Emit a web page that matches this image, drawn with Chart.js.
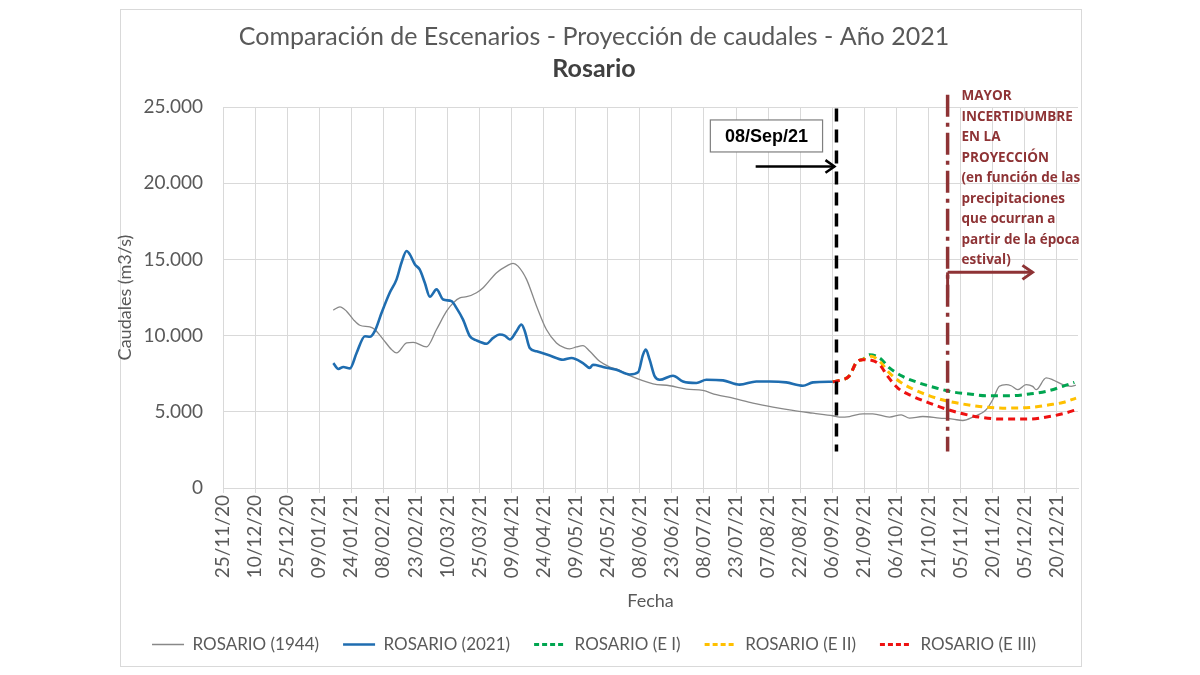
<!DOCTYPE html>
<html>
<head>
<meta charset="utf-8">
<script src="https://cdn.jsdelivr.net/npm/chart.js@4.4.1/dist/chart.umd.min.js"></script>
<style>
  html, body { margin: 0; padding: 0; background: #fff; }
</style>
</head>
<body>
<canvas id="chart" width="1200" height="675"></canvas>
<script>
// x values are days counted from 25/11/2020, y values in m3/s
const days1944 = [51.6, 54.7, 57.8, 61, 64, 68.7, 71, 75, 78.9, 81.2, 85.9, 89, 95.2, 99.9, 104.6, 107.7, 110.8, 114, 118.6, 121.7,
  128, 132.6, 135.7, 138, 142, 146.7, 151.3, 156, 159.9, 162.2, 165.4, 168.4, 171.6, 176.2, 181, 184, 190.3, 201.2, 209, 216.8,
  224.5, 230.8, 238.6, 247.9, 257.3, 266.6, 276, 285.3, 288.4, 293.1, 299.4, 304, 311.8, 317.3, 321.2, 327.4, 335.2, 341.4, 346.1,
  350.8, 357, 360.1, 363.2, 366.4, 368.7, 371.8, 375.7, 378.8, 380.4, 385.1, 388.2, 392.9, 396.8, 399];
const values1944 = [11670, 11890, 11600, 11050, 10680, 10570, 10400, 9740, 9080, 8860, 9520, 9560, 9260, 10400, 11600, 12150, 12480, 12550, 12810, 13140,
  14130, 14560, 14740, 14560, 13690, 11930, 10400, 9520, 9190, 9130, 9260, 9340, 8970, 8310, 7940, 7810, 7370, 6840, 6710, 6490,
  6400, 6120, 5900, 5570, 5310, 5090, 4910, 4740, 4650, 4690, 4870, 4870, 4650, 4800, 4590, 4690, 4590, 4520, 4430,
  4650, 5130, 5790, 6670, 6780, 6710, 6450, 6780, 6670, 6450, 7220, 7100, 6780, 6670, 6750];

const days2021 = [51.6, 54, 56.3, 59.4, 62.5, 66.4, 68.7, 71, 74.2, 78, 81.2, 83.5, 85.9, 87.4, 89.8, 92, 94.4, 96.8, 99.9, 103,
  106.9, 109.2, 112.3, 115.5, 118.6, 123.3, 126.4, 129.5, 131.8, 134.2, 137.3, 139.6, 141.2, 143.5, 146.7, 152.9, 159.1, 163, 168.4, 171.6,
  173.1, 177.8, 184, 190.3, 194.2, 196.5, 197.8, 199.6, 202, 204.3, 210.5, 215.2, 221.5, 226.1, 233.9, 241.7, 249.5, 255.7, 263.5, 271.3,
  276, 285.3];
const values2021 = [8200, 7810, 7940, 7850, 8860, 9960, 9920, 10290, 11500, 12810, 13690, 14780, 15550, 15330, 14670, 14340, 13470, 12550, 13030, 12370,
  12260, 11820, 11050, 9960, 9690, 9470, 9850, 10070, 10000, 9740, 10290, 10730, 10290, 9190, 8970, 8690, 8420, 8530, 8200, 7880,
  8090, 7940, 7760, 7450, 7590, 8750, 9080, 8420, 7320, 7100, 7370, 6990, 6890, 7100, 7060, 6780, 6990, 6990, 6930, 6710,
  6930, 6970];

const daysE1 = [285.3, 288.4, 293.1, 296.3, 299.4, 302.5, 307.2, 311.8, 318, 325.8, 333.7, 341.4, 349.2, 357, 367.9, 377.3, 385.1, 392.9, 398.3];
const valuesE1 = [6970, 7060, 7370, 8240, 8450, 8750, 8530, 7880, 7320, 6890, 6560, 6300, 6170, 6050, 6050, 6170, 6340, 6670, 6930];

const daysE2 = [285.3, 288.4, 293.1, 296.3, 299.4, 303.3, 307.2, 311.8, 316.5, 322.8, 330.5, 338.3, 346.1, 353.9, 364.8, 377.3, 386.6, 392.9, 399.1];
const valuesE2 = [6970, 7060, 7370, 8240, 8430, 8640, 8310, 7550, 6990, 6490, 6050, 5720, 5510, 5350, 5240, 5280, 5460, 5610, 5900];

const daysE3 = [285.3, 288.4, 293.1, 296.3, 299.4, 303.3, 307.2, 311, 315.7, 322.8, 330.5, 338.3, 346.1, 353.9, 364.8, 377.3, 386.6, 392.9, 399.1];
const valuesE3 = [6970, 7060, 7370, 8240, 8420, 8380, 8090, 7320, 6560, 6010, 5570, 5180, 4870, 4650, 4520, 4520, 4690, 4870, 5130];

const seriesNames = ['ROSARIO (1944)', 'ROSARIO (2021)', 'ROSARIO (E I)', 'ROSARIO (E II)', 'ROSARIO (E III)'];

// x axis: every 15 days from 25/11/20
const startDate = Date.UTC(2020, 10, 25);
const dayCut = 287;      // 08/Sep/21
const dayUncert = 339;   // start of "mayor incertidumbre"
const noteLines = ['MAYOR', 'INCERTIDUMBRE', 'EN LA', 'PROYECCIÓN', '(en función de las', 'precipitaciones', 'que ocurran a', 'partir de la época', 'estival)'];

function pts(xs, ys) {
  return xs.map((d, i) => ({ x: d, y: ys[i] }));
}

function fmtDate(v) {
  const d = new Date(startDate + v * 86400000);
  const dd = String(d.getUTCDate()).padStart(2, '0');
  const mm = String(d.getUTCMonth() + 1).padStart(2, '0');
  const yy = String(d.getUTCFullYear()).slice(2);
  return dd + '/' + mm + '/' + yy;
}

function fmtNum(v) {
  return String(v).replace(/\B(?=(\d{3})+(?!\d))/g, '.');
}

function arrow(ctx, x1, y1, x2, y2, head) {
  ctx.beginPath();
  ctx.moveTo(x1, y1);
  ctx.lineTo(x2, y2);
  ctx.stroke();
  ctx.beginPath();
  ctx.moveTo(x2 - head, y2 - head * 0.7);
  ctx.lineTo(x2, y2);
  ctx.lineTo(x2 - head, y2 + head * 0.7);
  ctx.stroke();
}

// frame round the whole chart
const frame = {
  id: 'frame',
  beforeDraw(chart) {
    const ctx = chart.ctx;
    ctx.save();
    ctx.fillStyle = '#fff';
    ctx.fillRect(0, 0, chart.width, chart.height);
    ctx.strokeStyle = '#d9d9d9';
    ctx.lineWidth = 1;
    ctx.strokeRect(120.5, 9.5, 961, 657);
    ctx.restore();
  }
};

// vertical markers, date box and note
const notes = {
  id: 'notes',
  afterDatasetsDraw(chart) {
    const ctx = chart.ctx;
    const xs = chart.scales.x, ys = chart.scales.y;
    ctx.save();

    // 08/Sep/21 line
    const xc = xs.getPixelForValue(dayCut);
    ctx.strokeStyle = '#000';
    ctx.lineWidth = 3.5;
    ctx.setLineDash([13, 8]);
    ctx.beginPath();
    ctx.moveTo(xc, ys.getPixelForValue(24900));
    ctx.lineTo(xc, ys.getPixelForValue(2400));
    ctx.stroke();
    ctx.setLineDash([]);

    // date box
    const bx1 = xs.getPixelForValue(228), bx2 = xs.getPixelForValue(280.5);
    const by1 = ys.getPixelForValue(24150), by2 = ys.getPixelForValue(22050);
    ctx.fillStyle = '#fff';
    ctx.fillRect(bx1, by1, bx2 - bx1, by2 - by1);
    ctx.strokeStyle = '#7f7f7f';
    ctx.lineWidth = 1.2;
    ctx.strokeRect(bx1, by1, bx2 - bx1, by2 - by1);
    ctx.fillStyle = '#000';
    ctx.font = 'bold 18px "Liberation Sans", Arial, sans-serif';
    ctx.textAlign = 'center';
    ctx.textBaseline = 'middle';
    ctx.fillText('08/Sep/21', (bx1 + bx2) / 2, (by1 + by2) / 2 + 1);

    ctx.strokeStyle = '#000';
    ctx.lineWidth = 2.5;
    arrow(ctx, xs.getPixelForValue(249.2), ys.getPixelForValue(21100), xc - 2, ys.getPixelForValue(21100), 9);

    // uncertainty line (dash-dot)
    const xu = xs.getPixelForValue(dayUncert);
    ctx.strokeStyle = '#8e3335';
    ctx.lineWidth = 3.5;
    ctx.setLineDash([22, 6, 4, 6]);
    ctx.beginPath();
    ctx.moveTo(xu, ys.getPixelForValue(25800));
    ctx.lineTo(xu, ys.getPixelForValue(2400));
    ctx.stroke();
    ctx.setLineDash([]);
    const ya = ys.getPixelForValue(14150);
    ctx.lineWidth = 3;
    ctx.beginPath();
    ctx.moveTo(xu, ys.getPixelForValue(12500));
    ctx.lineTo(xu, ya);
    ctx.stroke();
    arrow(ctx, xu, ya, xs.getPixelForValue(378.7), ya, 10);

    ctx.fillStyle = '#8e3335';
    ctx.font = 'bold 13.5px "Open Sans", sans-serif';
    ctx.textAlign = 'left';
    ctx.textBaseline = 'middle';
    const tx = xs.getPixelForValue(345.5);
    const ty = ys.getPixelForValue(25690);
    noteLines.forEach((t, i) => ctx.fillText(t, tx, ty + i * 20.5));
    ctx.restore();
  }
};

const txt = '#595959';

// legend lines keep the dash and width of their series
function legendLabels(chart) {
  return Chart.defaults.plugins.legend.labels.generateLabels(chart).map((l) => {
    const ds = chart.data.datasets[l.datasetIndex];
    return Object.assign(l, {
      strokeStyle: ds.borderColor,
      lineWidth: ds.borderDash ? 3 : ds.borderWidth,
      lineDash: ds.borderDash ? [5, 3] : []
    });
  });
}

new Chart(document.getElementById('chart'), {
  type: 'line',
  data: {
    datasets: [
      { label: seriesNames[0], data: pts(days1944, values1944), borderColor: '#888888', borderWidth: 1.3, order: 4 },
      { label: seriesNames[1], data: pts(days2021, values2021), borderColor: '#1f6db0', borderWidth: 2.6, order: 3 },
      { label: seriesNames[2], data: pts(daysE1, valuesE1), borderColor: '#00a550', borderWidth: 3, borderDash: [7, 5], order: 2 },
      { label: seriesNames[3], data: pts(daysE2, valuesE2), borderColor: '#ffc000', borderWidth: 3, borderDash: [7, 5], order: 1 },
      { label: seriesNames[4], data: pts(daysE3, valuesE3), borderColor: '#ee1111', borderWidth: 3, borderDash: [7, 5], order: 0 }
    ]
  },
  options: {
    responsive: false,
    animation: false,
    elements: { point: { radius: 0 }, line: { tension: 0.4, cubicInterpolationMode: 'monotone', fill: false } },
    layout: { padding: { left: 110, right: 122, top: 22, bottom: 12 } },
    plugins: {
      title: {
        display: true,
        text: 'Comparación de Escenarios - Proyección de caudales - Año 2021',
        color: txt,
        font: { family: 'Lato', size: 25, weight: 'normal' },
        padding: { top: 0, bottom: 2 }
      },
      subtitle: {
        display: true,
        text: 'Rosario',
        color: '#404040',
        font: { family: 'Lato', size: 25, weight: 'bold' },
        padding: { top: 0, bottom: 23 }
      },
      legend: {
        position: 'bottom',
        labels: {
          usePointStyle: true,
          pointStyle: 'line',
          pointStyleWidth: 32,
          color: txt,
          font: { family: 'Lato', size: 17 },
          padding: 24,
          generateLabels: legendLabels,
          sort: (a, b) => a.datasetIndex - b.datasetIndex
        }
      },
      tooltip: { enabled: false }
    },
    scales: {
      x: {
        type: 'linear',
        min: 0,
        max: 400,
        afterFit: (s) => { s.height = 124; },
        grid: { color: '#d9d9d9', tickLength: 5 },
        border: { color: '#d9d9d9' },
        ticks: {
          stepSize: 15,
          includeBounds: false,
          autoSkip: false,
          minRotation: 90,
          maxRotation: 90,
          callback: fmtDate,
          color: txt,
          font: { family: 'Lato', size: 19 },
          padding: 2
        },
        title: { display: true, text: 'Fecha', color: txt, font: { family: 'Lato', size: 18 }, padding: { top: 0, bottom: 0 } }
      },
      y: {
        min: 0,
        max: 25000,
        afterFit: (s) => { s.width = 113; },
        grid: { color: '#d9d9d9', drawTicks: false },
        border: { color: '#d9d9d9' },
        ticks: { stepSize: 5000, callback: fmtNum, color: txt, font: { family: 'Lato', size: 19 }, padding: 20 },
        title: { display: true, text: 'Caudales (m3/s)', color: txt, font: { family: 'Lato', size: 18 }, padding: { top: 4, bottom: 0 } }
      }
    }
  },
  plugins: [frame, notes]
});
</script>
</body>
</html>
